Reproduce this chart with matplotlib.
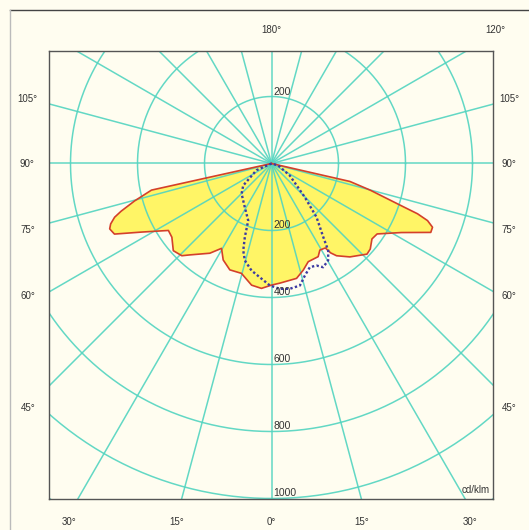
import numpy as np
import matplotlib
matplotlib.use("Agg")
import matplotlib.pyplot as plt
from matplotlib.lines import Line2D

plt.rcParams['font.family'] = ['Liberation Sans', 'DejaVu Sans']

# luminous intensity, cd/klm, gamma in degrees from nadir (negative = left half)
# C0-C180 plane (solid, filled)
gamma_c0 = [-90, -77.5, -74.7, -72.4, -71.1, -69.4, -68.0, -65.8, -62.2, -57.0,
            -53.5, -48.4, -44.2, -41.8, -34.5, -30.5, -26.6, -21.4, -15.3, -9.3,
            -4.6, 0.0, 4.0, 12.3, 16.6, 20.5, 26.6, 29.2, 32.5, 33.5,
            35.2, 40.0, 46.5, 49.1, 53.1, 56.3, 62.0, 66.6, 68.4, 69.9,
            71.0, 71.8, 74.9, 77.1, 90]
int_c0 = [0, 367, 424, 471, 495, 513, 521, 514, 439, 367,
          370, 392, 384, 366, 325, 294, 322, 341, 340, 368,
          374, 363, 358, 351, 332, 313, 311, 296, 299, 320,
          337, 364, 393, 390, 375, 379, 439, 518, 517, 496,
          461, 416, 305, 240, 0]

# C90-C270 plane (dotted)
gamma_c90 = [-90, -66, -52.1, -44.7, -31.4, -22.2, -19.9, -18.0, -15.4, -10.6,
             -5.0, -0.8, 3.8, 8.3, 13.1, 16.6, 20.3, 23.8, 26.5, 30.3,
             33.1, 35.1, 40.0, 44.7, 56.7, 73.4, 90]
int_c90 = [0, 49, 107, 127, 153, 184, 234, 273, 300, 325,
           345, 364, 375, 378, 374, 349, 330, 333, 346, 335,
           310, 269, 209, 141, 65, 21, 0]

rings = [200, 400, 600, 800, 1000, 1200]
ring_labels = [200, 400, 600, 800, 1000]
unit = "cd/klm"

# angle labels around the frame: text, x px, y px
side_labels = [("180°", 271, 30), ("120°", 495, 30),
               ("105°", 27, 99), ("105°", 509, 99),
               ("90°", 27, 164), ("90°", 509, 164),
               ("75°", 28, 230), ("75°", 509, 230),
               ("60°", 28, 296), ("60°", 509, 296),
               ("45°", 28, 408), ("45°", 509, 408),
               ("30°", 69, 522), ("15°", 177, 522), ("0°", 271, 522),
               ("15°", 362, 522), ("30°", 470, 522)]

W, H = 529, 530
bg = '#fffdf0'
grid_c = '#52d4c0'


def to_xy(g, i):
    g = np.radians(np.asarray(g, dtype=float))
    i = np.asarray(i, dtype=float)
    return i * np.sin(g), -i * np.cos(g)


fig = plt.figure(figsize=(W / 100, H / 100), dpi=100, facecolor=bg)
ax = fig.add_axes([48.8 / W, 1 - 499 / H, (493 - 48.8) / W, (499 - 50.5) / H])
ax.set_facecolor(bg)
ax.set_xlim(-664.8, 661.2)
ax.set_ylim(-1001.5, 337.3)
ax.set_aspect('equal', adjustable='box')
ax.set_xticks([])
ax.set_yticks([])
for s in ax.spines.values():
    s.set_color('#555555')
    s.set_linewidth(1.0)

# filled C0-C180 curve
x0, y0 = to_xy(gamma_c0, int_c0)
ax.fill(x0, y0, color='#fff566', zorder=1, lw=0)

# polar grid
t = np.linspace(0, 2 * np.pi, 400)
for r in rings:
    ax.plot(r * np.cos(t), r * np.sin(t), color=grid_c, lw=1.1, alpha=0.9, zorder=2)
for a in range(0, 360, 15):
    gx, gy = to_xy([a, a], [0, 1600])
    ax.plot(gx, gy, color=grid_c, lw=1.1, alpha=0.9, zorder=2)

ax.plot(x0, y0, color='#d4402a', lw=1.2, zorder=4)
x1, y1 = to_xy(gamma_c90, int_c90)
ax.plot(x1, y1, color='#3c3aa2', lw=1.7, linestyle=(0, (1, 1)), zorder=5)

for r in ring_labels:
    ax.text(6, -r, str(r), ha='left', va='bottom', fontsize=7.5, color='#333333', zorder=6)
ax.text(6, 200, "200", ha='left', va='bottom', fontsize=7.5, color='#333333', zorder=6)
fig.text(490 / W, 1 - 490 / H, unit, ha='right', va='center', fontsize=7, color='#333333')

for txt, px, py in side_labels:
    fig.text(px / W, 1 - py / H, txt, ha='center', va='center', fontsize=7, color='#333333')

# outer frame lines (top and left)
fig.add_artist(Line2D([10 / W, 1], [1 - 10 / H, 1 - 10 / H], color='#444444', lw=1.0))
fig.add_artist(Line2D([10 / W, 10 / W], [0, 1 - 10 / H], color='#bbbbbb', lw=1.0))

fig.savefig('out.png', dpi=100, facecolor=bg)
